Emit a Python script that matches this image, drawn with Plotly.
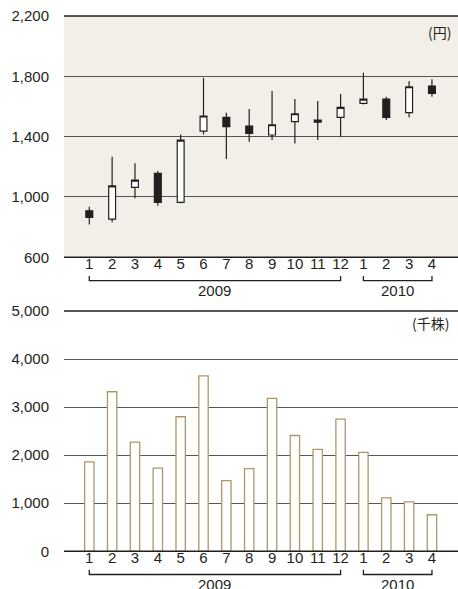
import plotly.graph_objects as go
from plotly.subplots import make_subplots

# Monthly share price (yen) and trading volume (thousand shares), Jan 2009 - Apr 2010
month_labels = ["1", "2", "3", "4", "5", "6", "7", "8", "9", "10", "11", "12", "1", "2", "3", "4"]
price_open = [908, 853, 1064, 1156, 964, 1437, 1528, 1470, 1411, 1499, 1510, 1528, 1621, 1649, 1559, 1736]
price_high = [935, 1267, 1223, 1172, 1415, 1791, 1559, 1583, 1702, 1649, 1636, 1683, 1824, 1665, 1769, 1780]
price_low = [818, 832, 991, 942, 958, 1415, 1251, 1366, 1377, 1355, 1377, 1399, 1614, 1510, 1528, 1665]
price_close = [865, 1074, 1112, 964, 1377, 1537, 1466, 1422, 1479, 1552, 1496, 1594, 1649, 1528, 1731, 1687]
volume = [1860, 3320, 2270, 1730, 2800, 3650, 1470, 1720, 3180, 2410, 2120, 2750, 2060, 1110, 1030, 760]
year_names = ["2009", "2010"]
year_spans = [(0, 11), (12, 15)]

W, H = 458, 589
INK = "#231f20"
GRID = "#555555"
BEIGE = "#f2efe9"
TAN = "#ad9766"
FONT = "Liberation Sans, Arial, sans-serif"
CJK = "Noto Sans CJK JP"
FS = 15

xpos = list(range(len(month_labels)))

fig = make_subplots(rows=2, cols=1)

fig.add_trace(go.Candlestick(
    x=xpos, open=price_open, high=price_high, low=price_low, close=price_close,
    increasing=dict(line=dict(color=INK, width=1.2), fillcolor="white"),
    decreasing=dict(line=dict(color=INK, width=1.2), fillcolor=INK),
    whiskerwidth=0, showlegend=False, hoverinfo="skip",
), row=1, col=1)

fig.add_trace(go.Bar(
    x=xpos, y=volume, width=0.41,
    marker=dict(color="white", line=dict(color=TAN, width=1.3)),
    showlegend=False, hoverinfo="skip",
), row=2, col=1)

xdom = [64 / W, 1.0]
xrange = [-1.107, 16.14]
top_dom = [1 - 257.3 / H, 1 - 16 / H]
bot_dom = [1 - 551.3 / H, 1 - 311 / H]
LABEL_LIFT = 4.5 / H  # month labels sit a little closer to the base line

month_axis = dict(
    domain=xdom, range=xrange, tickmode="array", tickvals=xpos, ticktext=month_labels,
    showgrid=False, zeroline=False, showline=False, anchor="free",
    ticks="", ticklabelstandoff=0, automargin=False,
    tickfont=dict(size=FS, color=INK, family=FONT),
)
value_axis = dict(
    tickformat=",d", showgrid=True, gridcolor=GRID, gridwidth=1, zeroline=False,
    ticks="", ticklabelstandoff=14, automargin=False,
    tickfont=dict(size=FS, color=INK, family=FONT),
)

fig.update_layout(
    width=W, height=H, margin=dict(l=0, r=0, t=0, b=0, pad=0),
    paper_bgcolor="white", plot_bgcolor="white",
    boxgap=0.57,
    font=dict(family=FONT, color=INK, size=FS),
    xaxis=dict(**month_axis, position=top_dom[0] + LABEL_LIFT, rangeslider=dict(visible=False)),
    xaxis2=dict(**month_axis, position=bot_dom[0] + LABEL_LIFT),
    yaxis=dict(**value_axis, domain=top_dom, range=[600, 2200], tick0=600, dtick=400),
    yaxis2=dict(**value_axis, domain=bot_dom, range=[0, 5000], tick0=0, dtick=1000),
)

shapes = [dict(type="rect", xref="x domain", yref="y domain", x0=0, x1=1, y0=0, y1=1,
               fillcolor=BEIGE, line=dict(width=0), layer="below")]
# dark top and base rules of each panel
for xr, yr in (("x domain", "y domain"), ("x2 domain", "y2 domain")):
    for yv in (0, 1):
        shapes.append(dict(type="line", xref=xr, yref=yr, x0=0, x1=1, y0=yv, y1=yv,
                           line=dict(color=INK, width=1.5)))

annotations = [
    dict(text="(円)", xref="paper", yref="paper", x=452.7 / W, y=1 - 31.7 / H,
         xanchor="right", yanchor="middle", showarrow=False,
         font=dict(size=FS - 1, color=INK, family=CJK)),
    dict(text="(千株)", xref="paper", yref="paper", x=450.7 / W, y=1 - 323.3 / H,
         xanchor="right", yanchor="middle", showarrow=False,
         font=dict(size=FS - 1, color=INK, family=CJK)),
]

# year brackets and year names under each month axis
for xref, base_px, text_top_px in (("x", 280.7, 281.0), ("x2", 574.5, 574.8)):
    yb = 1 - base_px / H
    yt = 1 - (base_px - 4.7) / H
    for name, (a, b) in zip(year_names, year_spans):
        shapes.append(dict(type="path", xref=xref, yref="paper",
                           path=f"M {a},{yt} L {a},{yb} L {b},{yb} L {b},{yt}",
                           line=dict(color=INK, width=1.3)))
        annotations.append(dict(text=name, xref=xref, yref="paper", x=(a + b) / 2,
                                y=1 - text_top_px / H, xanchor="center", yanchor="top",
                                showarrow=False, borderpad=0,
                                font=dict(size=FS, color=INK, family=FONT)))

fig.update_layout(shapes=shapes, annotations=annotations)
fig.write_html("out.html")
